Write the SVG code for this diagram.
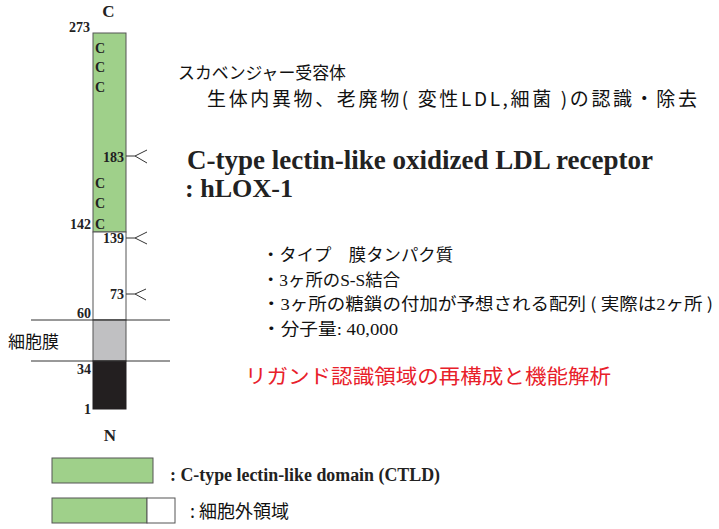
<svg xmlns="http://www.w3.org/2000/svg" width="719" height="529" viewBox="0 0 719 529">
<style>
.num{font-family:"Liberation Serif",serif;font-weight:bold;font-size:14px;fill:#222}
.big{font-size:17px}
.jp{font-family:"Noto Sans CJK JP","Noto Sans",sans-serif;fill:#111}
.se{font-family:"Liberation Serif",serif}
.en{font-family:"Liberation Serif","Noto Sans CJK JP",serif;font-weight:bold;fill:#222}
.ln{stroke:#333;stroke-width:1;fill:none}
.green{fill:#9fd08a;stroke:#555;stroke-width:1}
</style>
<rect width="719" height="529" fill="#fff"/>
<g id="protein">
<rect x="93" y="33" width="33" height="199" class="green"/>
<rect x="93" y="232" width="33" height="88" fill="#fff" stroke="#555"/>
<rect x="93" y="320" width="33" height="41" fill="#c0c0c2" stroke="#555"/>
<rect x="93" y="361" width="33" height="48" fill="#231f20" stroke="#231f20"/>
<text class="num big" x="108.5" y="17" text-anchor="middle">C</text>
<text class="num" x="90" y="32" text-anchor="end">273</text>
<text class="num" x="95" y="53">C</text>
<text class="num" x="95" y="72">C</text>
<text class="num" x="95" y="92">C</text>
<text class="num" x="124" y="162" text-anchor="end">183</text>
<text class="num" x="95" y="188">C</text>
<text class="num" x="95" y="208">C</text>
<text class="num" x="95" y="229">C</text>
<text class="num" x="91" y="229" text-anchor="end">142</text>
<text class="num" x="124" y="243" text-anchor="end">139</text>
<text class="num" x="124" y="299" text-anchor="end">73</text>
<text class="num" x="91" y="318" text-anchor="end">60</text>
<text class="num" x="91" y="374" text-anchor="end">34</text>
<text class="num" x="91" y="414" text-anchor="end">1</text>
<text class="num big" x="110" y="441" text-anchor="middle">N</text>
</g>
<g id="membrane">
<line x1="31" y1="320" x2="170" y2="320" class="ln"/>
<line x1="31" y1="361" x2="170" y2="361" class="ln"/>
<text class="jp" x="8" y="348" font-size="17">細胞膜</text>
</g>
<g id="connectors">
<path class="ln" d="M126 156H135M147 150L135 156L147 163"/>
<path class="ln" d="M126 238H135M147 232L135 238L147 244"/>
<path class="ln" d="M126 294H135M146 289L135 294L146 300"/>
</g>
<g id="description">
<text class="jp" x="178" y="79" font-size="17" textLength="168" lengthAdjust="spacingAndGlyphs">スカベンジャー受容体</text>
<text class="jp" x="207" y="106" font-size="19" textLength="490" lengthAdjust="spacing">生体内異物、老廃物( 変性LDL,細菌 )の認識・除去</text>
<text class="en" x="187" y="169" font-size="28" textLength="466" lengthAdjust="spacingAndGlyphs">C-type lectin-like oxidized LDL receptor</text>
<text class="en" x="185" y="197" font-size="26" textLength="108" lengthAdjust="spacingAndGlyphs">: hLOX-1</text>
</g>
<g id="features">
<text class="jp" x="262" y="261" font-size="16.5" textLength="191" lengthAdjust="spacingAndGlyphs">・タイプ　膜タンパク質</text>
<text class="jp" x="262" y="286" font-size="16.5" textLength="138" lengthAdjust="spacingAndGlyphs">・<tspan class="se">3</tspan>ヶ所の<tspan class="se">S-S</tspan>結合</text>
<text class="jp" x="262" y="310" font-size="16.5" textLength="451" lengthAdjust="spacingAndGlyphs">・<tspan class="se">3</tspan>ヶ所の糖鎖の付加が予想される配列 ( 実際は<tspan class="se">2</tspan>ヶ所 )</text>
<text class="jp" x="262" y="335" font-size="16.5" textLength="136" lengthAdjust="spacingAndGlyphs">・分子量<tspan class="se">: 40,000</tspan></text>
<text class="jp" x="245" y="384" font-size="20" textLength="366" lengthAdjust="spacingAndGlyphs" style="fill:#e8202a">リガンド認識領域の再構成と機能解析</text>
</g>
<g id="legend">
<rect x="52" y="458" width="101" height="25" class="green"/>
<text class="en" x="170" y="481" font-size="18" textLength="270" lengthAdjust="spacingAndGlyphs">: C-type lectin-like domain (CTLD)</text>
<rect x="52" y="498" width="95" height="25" class="green"/>
<rect x="147" y="498" width="28" height="25" fill="#fff" stroke="#555"/>
<text class="jp" x="190" y="518" font-size="18">: 細胞外領域</text>
</g>
</svg>
